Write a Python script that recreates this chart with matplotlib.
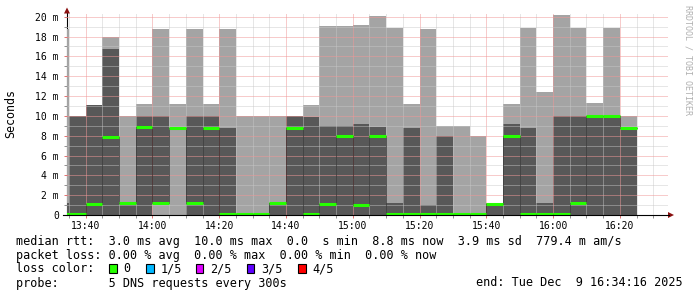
import matplotlib
matplotlib.use("Agg")
import matplotlib.pyplot as plt
import numpy as np
from matplotlib.lines import Line2D
from matplotlib.patches import Polygon, Rectangle
from matplotlib.ticker import MultipleLocator, FixedLocator

# 5 pings per 5-minute step, sorted (values in ms)
starts = ["13:30", "13:35", "13:40", "13:45", "13:50", "13:55", "14:00", "14:05",
          "14:10", "14:15", "14:20", "14:25", "14:30", "14:35", "14:40", "14:45",
          "14:50", "14:55", "15:00", "15:05", "15:10", "15:15", "15:20", "15:25",
          "15:30", "15:35", "15:40", "15:45", "15:50", "15:55", "16:00", "16:05",
          "16:10", "16:15", "16:20"]
ping1 = [0, 0, 0, 0, 0, 0, 0, 0, 0, 0, 0, 0.05, 0.05, 0, 0, 0, 0, 0, 0, 0,
         0, 0, 0, 0, 0.05, 0.05, 0, 0, 0, 0, 0, 0, 0, 0, 0]
ping2 = [0, 0, 0, 0, 0, 0, 1.2, 8.8, 0, 0, 0, 0.1, 0.1, 0, 0, 0, 0, 0, 0, 0,
         0, 0, 0, 0, 0.1, 0.1, 0, 0, 0, 0, 0, 0, 0, 0, 0]
median = [0.1, 0.1, 1.1, 7.9, 1.2, 8.85, 1.2, 8.8, 1.2, 8.8, 0.1, 0.1, 0.1, 1.2, 8.8, 0.1,
          1.1, 7.95, 1.05, 7.95, 0.1, 0.1, 0.1, 0.1, 0.1, 0.1, 1.1, 7.95, 0.1, 0.1,
          0.1, 1.2, 10.0, 10.0, 8.8]
ping4 = [1.2, 10.0, 11.1, 16.7, 1.2, 10.0, 10.0, 8.8, 10.0, 10.0, 8.75, 0.1, 0.1, 1.2, 10.0, 9.85,
         9.0, 9.0, 9.15, 8.85, 1.2, 8.75, 1.0, 7.95, 0.1, 0.1, 1.2, 9.15, 8.75, 1.2,
         10.0, 10.0, 10.0, 10.0, 8.8]
ping5 = [18.8, 10.0, 11.1, 18.0, 10.0, 11.2, 18.8, 11.2, 18.8, 11.2, 18.8, 10.0, 10.0, 10.0, 10.0, 11.1,
         19.05, 19.05, 19.15, 20.1, 18.85, 11.15, 18.75, 8.95, 8.95, 7.95, 1.2, 11.15, 18.85, 12.4,
         20.15, 18.85, 11.3, 18.85, 10.0]

major_ticks = ["13:40", "14:00", "14:20", "14:40", "15:00", "15:20", "15:40", "16:00", "16:20"]
loss_labels = ["0", "1/5", "2/5", "3/5", "4/5"]
loss_colors = ["#26ff00", "#00b8ff", "#dd00ff", "#5e00ff", "#ff0000"]


def mins(s):
    h, m = s.split(":")
    return int(h) * 60 + int(m)


W, H = 697, 297
plt.rcParams["font.family"] = "DejaVu Sans Mono"


def fx(x):
    return x / W


def fy(y):
    return 1 - y / H


t = np.array([mins(s) for s in starts], float)
edges = np.append(t, t[-1] + 5)


def ext(v):
    v = np.asarray(v, float)
    return np.append(v, v[-1])


x0 = mins("13:34") + 16 / 60
x1 = x0 + 180
ytop = (215 - 13) / 9.915

fig = plt.figure(figsize=(W / 100, H / 100), dpi=100)
ax = fig.add_axes([fx(66.5), fy(215), 601 / W, (215 - 13) / H])
ax.set_xlim(x0, x1)
ax.set_ylim(0, ytop)
for s in ax.spines.values():
    s.set_visible(False)

# left axis line (drawn below the smoke, like rrdtool)
ax.plot([x0 + 0.1, x0 + 0.1], [0, ytop], color="black", lw=0.8, zorder=0.5, clip_on=False)

# smoke
ax.fill_between(edges, ext(ping1), ext(ping5), step="post", color="#a4a4a4", lw=0, zorder=1)
ax.fill_between(edges, ext(ping2), ext(ping4), step="post", color="#585858", lw=0, zorder=1.1)

# median
ax.step(edges, ext(median), where="post", color="black", lw=0.72, ls=(0, (1, 1)), zorder=2.8)
ax.hlines(median, t, t + 5, colors=loss_colors[0], lw=2.2, zorder=3, capstyle="butt")

# ticks and grid
ax.xaxis.set_major_locator(FixedLocator([mins(s) for s in major_ticks]))
ax.set_xticklabels(major_ticks)
ax.xaxis.set_minor_locator(MultipleLocator(5))
ax.set_yticks(np.arange(0, 21, 2))
ax.set_yticklabels(["0"] + ["%d m" % v for v in range(2, 21, 2)])
ax.yaxis.set_minor_locator(MultipleLocator(1))
ax.set_axisbelow(False)
ax.grid(which="minor", color="#c8c8c8", lw=0.72, ls=(0, (1, 1)), alpha=0.9)
ax.grid(which="major", color="#f09898", lw=0.72, ls=(0, (1, 1)))
ax.tick_params(which="major", length=2.5, width=0.7, color="#e07070", labelsize=7, pad=2)
ax.tick_params(which="minor", length=2, width=0.7, color="#909090")
ax.tick_params(axis="y", pad=3)

# bottom axis + arrows
fig.add_artist(Line2D([fx(63), fx(669)], [fy(215), fy(215)], color="black", lw=0.8))
fig.add_artist(Polygon([(fx(674), fy(215)), (fx(668), fy(212)), (fx(668), fy(218))],
                       closed=True, color="#8b1010", lw=0))
fig.add_artist(Polygon([(fx(67), fy(7.5)), (fx(64), fy(13.5)), (fx(70), fy(13.5))],
                       closed=True, color="#8b1010", lw=0))

# labels
fig.text(fx(10.7), fy(114), "Seconds", rotation=90, ha="center", va="center", fontsize=8.4)
fig.text(fx(688), fy(60), "RRDTOOL / TOBI OETIKER", rotation=-90, ha="center", va="center",
         fontsize=6, color="#b0b0b0")

fs = 8.5
fig.text(fx(16), fy(241.3),
         "median rtt:  3.0 ms avg  10.0 ms max  0.0  s min  8.8 ms now  3.9 ms sd  779.4 m am/s",
         ha="left", va="center", fontsize=fs)
fig.text(fx(16), fy(255.3),
         "packet loss: 0.00 % avg  0.00 % max  0.00 % min  0.00 % now",
         ha="left", va="center", fontsize=fs)
fig.text(fx(16), fy(268.7), "loss color:", ha="left", va="center", fontsize=fs)
box_x = [109, 146, 195.7, 246.7, 298.3]
lab_x = [123, 160.5, 210, 261.5, 312.5]
for bx, lx, c, lab in zip(box_x, lab_x, loss_colors, loss_labels):
    fig.add_artist(Rectangle((fx(bx), fy(273)), 7.5 / W, 9.5 / H, facecolor=c,
                             edgecolor="black", lw=0.8))
    fig.text(fx(lx), fy(268.7), lab, ha="left", va="center", fontsize=fs)
fig.text(fx(16), fy(283), "probe:       5 DNS requests every 300s", ha="left", va="center", fontsize=fs)
fig.text(fx(682.5), fy(283), "end: Tue Dec  9 16:34:16 2025", ha="right", va="center", fontsize=fs)

fig.savefig("out.png", dpi=100)
